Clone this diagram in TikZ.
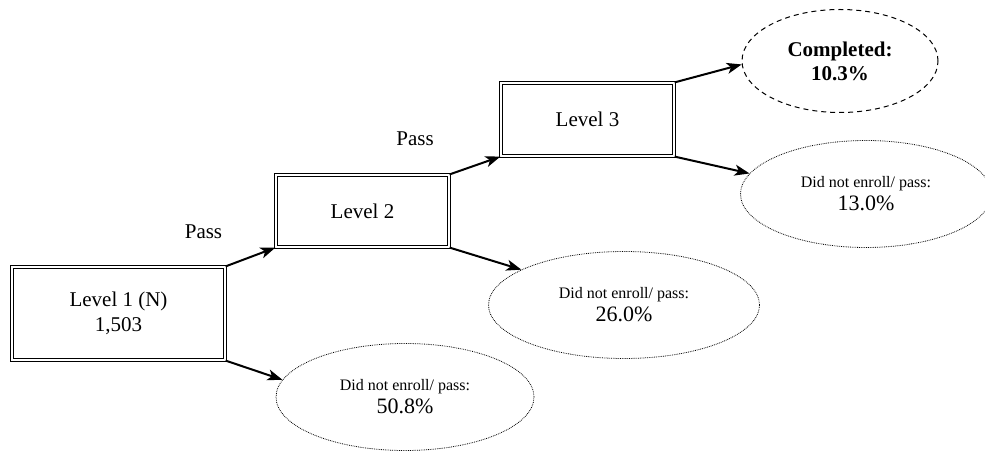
\documentclass[tikz,border=0pt]{standalone}
\usepackage{fontspec}
\setmainfont{Liberation Serif}
\usetikzlibrary{arrows.meta,shapes.geometric}

\tikzset{
  levelbox/.style={draw, double, line width=1.2pt, double distance=1.8pt,
    align=center, font=\fontsize{21}{25}\selectfont},
  outbox/.style={ellipse, draw, densely dotted, line width=0.8pt,
    align=center, inner sep=0pt},
  donebox/.style={ellipse, draw, dash pattern=on 5pt off 4pt, line width=1pt,
    align=center, inner sep=0pt, font=\bfseries\fontsize{21}{24}\selectfont},
  flow/.style={-{Stealth[length=15pt,width=11pt,inset=4pt]}, line width=2pt},
  passlabel/.style={font=\fontsize{21}{25}\selectfont}
}
\newcommand{\outtext}[1]{{\fontsize{16}{20}\selectfont Did not enroll/ pass:}\\[4pt]{\fontsize{22}{24}\selectfont #1}}

\begin{document}
\begin{tikzpicture}[x=1pt,y=1pt]
\useasboundingbox (0,0) rectangle (985,450);

% the three levels
\node[levelbox, minimum width=213pt, minimum height=93pt] (lvl1) at (118.5,136.5) {Level 1 (N)\\1,503};
\node[levelbox, minimum width=173pt, minimum height=72pt] (lvl2) at (362.5,239) {Level 2};
\node[levelbox, minimum width=173pt, minimum height=73pt] (lvl3) at (587.5,330.5) {Level 3};

% outcomes
\node[outbox, minimum width=258pt, minimum height=107pt] (out1) at (405,53) {\outtext{50.8\%}};
\node[outbox, minimum width=271pt, minimum height=107pt] (out2) at (624,145) {\outtext{26.0\%}};
\node[outbox, minimum width=251pt, minimum height=107pt] (out3) at (866,256) {\outtext{13.0\%}};
\node[donebox, minimum width=196pt, minimum height=103pt] (done) at (840,389) {Completed:\\10.3\%};

\node[passlabel] (pass1) at (203.5,218) {Pass};
\node[passlabel] (pass2) at (415,311) {Pass};

\draw[flow] (lvl1.north east) -- (lvl2.south west);
\draw[flow] (lvl1.south east) -- (out1.172);
\draw[flow] (lvl2.north east) -- (lvl3.south west);
\draw[flow] (lvl2.south east) -- (out2.161);
\draw[flow] (lvl3.north east) -- (done.182);
\draw[flow] (lvl3.south east) -- (out3.170);

\end{tikzpicture}
\end{document}
